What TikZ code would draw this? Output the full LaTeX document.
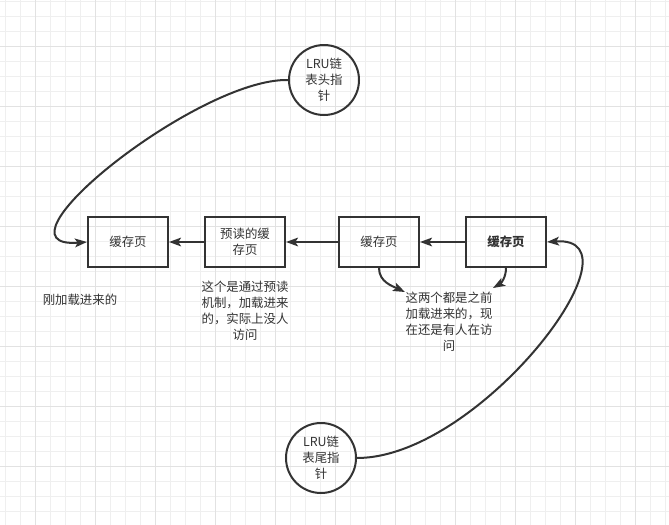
\documentclass[tikz,border=0pt]{standalone}
\usepackage{fontspec}
\setmainfont{Noto Sans CJK SC}
\usetikzlibrary{arrows.meta}
\definecolor{ink}{HTML}{333333}
\definecolor{gridminor}{HTML}{EFEFEF}
\definecolor{gridmajor}{HTML}{E2E2E2}

\begin{document}
\begin{tikzpicture}[x=0.75pt,y=-0.75pt,text=ink,font=\fontsize{9.3}{12}\selectfont,
 page/.style={draw=ink,line width=1.5pt,minimum width=60pt,minimum height=37.5pt,inner sep=2pt,align=center},
 pointer/.style={circle,draw=ink,line width=1.5pt,minimum size=52.5pt,inner sep=0pt,align=center},
 note/.style={align=center,inner sep=0pt},
 link/.style={-{Stealth[length=9pt,width=6.5pt,inset=2pt]},line width=1.5pt,ink}]
 \fill[white] (0,0) rectangle (669,525);
 \useasboundingbox (0,0) rectangle (669,525);
 \begin{scope}
  \clip (0,0) rectangle (669,525);
  \foreach \x in {5.7,20.7,...,669}{\draw[gridminor,line width=.75pt] (\x,0)--(\x,525);}
  \foreach \y in {1,16,...,525}{\draw[gridminor,line width=.75pt] (0,\y)--(669,\y);}
  \foreach \x in {35.7,95.7,...,669}{\draw[gridmajor,line width=.75pt] (\x,0)--(\x,525);}
  \foreach \y in {46,106,...,525}{\draw[gridmajor,line width=.75pt] (0,\y)--(669,\y);}
 \end{scope}
 % pages of the list
 \node[page] (c1) at (128,242) {缓存页};
 \node[page] (c2) at (245,242) {预读的缓\\存页};
 \node[page] (c3) at (379,242) {缓存页};
 \node[page,font=\fontsize{9.3}{12}\selectfont\bfseries] (c4) at (506,242) {缓存页};
 \draw[link] (c2) -- (c1);
 \draw[link] (c3) -- (c2);
 \draw[link] (c4) -- (c3);
 % head and tail pointers
 \node[pointer] (head) at (324,80) {LRU链\\表头指\\针};
 \node[pointer] (tail) at (321,458) {LRU链\\表尾指\\针};
 \draw[link] (head.west) .. controls +(-90,-2) and +(-104,8) .. (c1.west);
 \draw[link] (tail.east) .. controls +(123,0) and +(102,-7) .. (c4.east);
 % notes
 \node[note] (n1) at (80,300) {刚加载进来的};
 \node[note] (n2) at (245,311) {这个是通过预读\\机制，加载进来\\的，实际上没人\\访问};
 \node[note] (n3) at (449,322) {这两个都是之前\\加载进来的，现\\在还是有人在访\\问};
 \coordinate (p3) at (405,292);
 \coordinate (p4) at (493,288);
 \draw[link] (c3.south) to[out=-90,in=155] (p3);
 \draw[link] (c4.south) to[out=-90,in=30] (p4);
\end{tikzpicture}
\end{document}
